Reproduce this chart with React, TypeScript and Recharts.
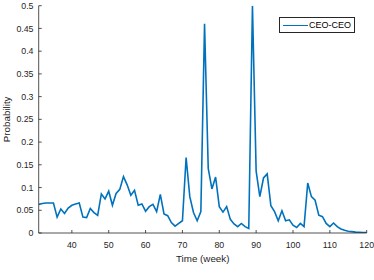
import React from 'react';
import { LineChart, Line, XAxis, YAxis, Legend } from 'recharts';

const weeks: number[] = [
  31, 32, 33, 34, 35, 36, 37, 38, 39, 40,
  41, 42, 43, 44, 45, 46, 47, 48, 49, 50,
  51, 52, 53, 54, 55, 56, 57, 58, 59, 60,
  61, 62, 63, 64, 65, 66, 67, 68, 69, 70,
  71, 72, 73, 74, 75, 76, 77, 78, 79, 80,
  81, 82, 83, 84, 85, 86, 87, 88, 89, 90,
  91, 92, 93, 94, 95, 96, 97, 98, 99, 100,
  101, 102, 103, 104, 105, 106, 107, 108, 109, 110,
  111, 112, 113, 114, 115, 116, 117, 118, 119, 120,
];

const ceoCeo: number[] = [
  0.063, 0.065, 0.066, 0.066, 0.066, 0.035, 0.053, 0.043, 0.055, 0.061,
  0.064, 0.066, 0.035, 0.034, 0.054, 0.045, 0.039, 0.086, 0.075, 0.092,
  0.061, 0.087, 0.096, 0.124, 0.106, 0.083, 0.094, 0.061, 0.064, 0.048,
  0.058, 0.063, 0.047, 0.085, 0.042, 0.038, 0.023, 0.015, 0.021, 0.027,
  0.166, 0.08, 0.045, 0.027, 0.047, 0.46, 0.142, 0.097, 0.123, 0.058,
  0.046, 0.058, 0.03, 0.02, 0.014, 0.021, 0.014, 0.01, 0.5, 0.136,
  0.08, 0.121, 0.13, 0.06, 0.047, 0.027, 0.049, 0.027, 0.029, 0.017,
  0.012, 0.021, 0.014, 0.11, 0.08, 0.072, 0.039, 0.036, 0.021, 0.014,
  0.022, 0.014, 0.009, 0.006, 0.004, 0.003, 0.002, 0.0015, 0.001, 0.001,
];

const xTicks: number[] = [40, 50, 60, 70, 80, 90, 100, 110, 120];
const yTicks: number[] = [0, 0.05, 0.1, 0.15, 0.2, 0.25, 0.3, 0.35, 0.4, 0.45, 0.5];
const seriesName = 'CEO-CEO';
const xLabel = 'Time (week)';
const yLabel = 'Probability';

const data = weeks.map((w, i) => ({ week: w, value: ceoCeo[i] }));

const FONT = '"Liberation Sans", Arial, sans-serif';
const AXIS = '#262626';
const LINE = '#0072BD';

const fmt = (v: number) => String(Number(v.toFixed(2)));

const LegendBox = () => (
  <div
    style={{
      position: 'relative',
      width: 74,
      height: 14,
      border: `1px solid ${AXIS}`,
      background: '#fff',
      boxSizing: 'content-box',
      fontFamily: FONT,
      fontSize: 9,
      color: '#000',
    }}
  >
    <div
      style={{
        position: 'absolute',
        left: 3,
        top: 6.5,
        width: 24.5,
        height: 1.6,
        background: LINE,
      }}
    />
    <span style={{ position: 'absolute', left: 29, top: 1, lineHeight: '12px', whiteSpace: 'nowrap' }}>
      {seriesName}
    </span>
  </div>
);

export default function App() {
  return (
    <div style={{ position: 'absolute', left: 0, top: 0, width: 374, height: 280, background: '#fff' }}>
      <LineChart
        width={374}
        height={280}
        data={data}
        margin={{ top: 5.7, right: 7.3, left: 0, bottom: 0 }}
      >
        <XAxis
          xAxisId="bottom"
          dataKey="week"
          type="number"
          domain={[31, 120]}
          ticks={xTicks}
          allowDataOverflow
          height={31}
          tickSize={-3}
          tickMargin={11.9}
          stroke={AXIS}
          axisLine={{ stroke: AXIS, strokeWidth: 0.8 }}
          tickLine={{ stroke: AXIS, strokeWidth: 0.8 }}
          tick={{ fill: AXIS, fontSize: 8.8, fontFamily: FONT }}
          interval={0}
          label={{
            value: xLabel,
            position: 'insideBottom',
            offset: 2.5,
            style: { fill: AXIS, fontSize: 9.8, fontFamily: FONT },
          }}
        />
        <XAxis
          xAxisId="top"
          orientation="top"
          dataKey="week"
          type="number"
          domain={[31, 120]}
          ticks={xTicks}
          allowDataOverflow
          height={0}
          tickSize={-3}
          tick={false}
          axisLine={{ stroke: AXIS, strokeWidth: 0.8 }}
          tickLine={{ stroke: AXIS, strokeWidth: 0.8 }}
          interval={0}
        />
        <YAxis
          yAxisId="left"
          type="number"
          domain={[0, 0.5]}
          ticks={yTicks}
          allowDataOverflow
          width={38.7}
          tickSize={-3}
          tickMargin={8.2}
          tickFormatter={fmt}
          axisLine={{ stroke: AXIS, strokeWidth: 0.8 }}
          tickLine={{ stroke: AXIS, strokeWidth: 0.8 }}
          tick={{ fill: AXIS, fontSize: 8.8, fontFamily: FONT }}
          interval={0}
          label={{
            value: yLabel,
            angle: -90,
            position: 'insideLeft',
            offset: 7,
            style: { textAnchor: 'middle', fill: AXIS, fontSize: 9.8, fontFamily: FONT },
          }}
        />
        <YAxis
          yAxisId="right"
          orientation="right"
          type="number"
          domain={[0, 0.5]}
          ticks={yTicks}
          allowDataOverflow
          width={0}
          tickSize={-3}
          tick={false}
          axisLine={{ stroke: AXIS, strokeWidth: 0.8 }}
          tickLine={{ stroke: AXIS, strokeWidth: 0.8 }}
          interval={0}
        />
        <Legend
          content={() => <LegendBox />}
          wrapperStyle={{ position: 'absolute', left: 279, top: 17, width: 76, height: 16 }}
        />
        <Line
          xAxisId="bottom"
          yAxisId="left"
          type="linear"
          dataKey="value"
          name={seriesName}
          stroke={LINE}
          strokeWidth={1.6}
          dot={false}
          activeDot={false}
          isAnimationActive={false}
        />
      </LineChart>
    </div>
  );
}
